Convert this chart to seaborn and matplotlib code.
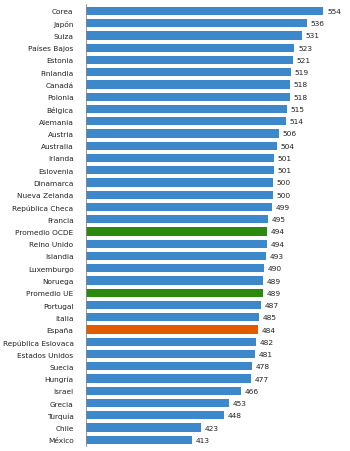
import matplotlib
matplotlib.use("Agg")
import matplotlib.pyplot as plt
import numpy as np
import pandas as pd
import seaborn as sns

countries = ["Corea", "Japón", "Suiza", "Países Bajos", "Estonia", "Finlandia", "Canadá",
             "Polonia", "Bélgica", "Alemania", "Austria", "Australia", "Irlanda", "Eslovenia",
             "Dinamarca", "Nueva Zelanda", "República Checa", "Francia", "Promedio OCDE",
             "Reino Unido", "Islandia", "Luxemburgo", "Noruega", "Promedio UE", "Portugal",
             "Italia", "España", "República Eslovaca", "Estados Unidos", "Suecia", "Hungría",
             "Israel", "Grecia", "Turquía", "Chile", "México"]
scores = [554, 536, 531, 523, 521, 519, 518, 518, 515, 514, 506, 504, 501, 501, 500, 500,
          499, 495, 494, 494, 493, 490, 489, 489, 487, 485, 484, 482, 481, 478, 477, 466,
          453, 448, 423, 413]

BLUE, GREEN, ORANGE = "#3c88cb", "#2b8a0e", "#e35b00"
palette = {c: (GREEN if c.startswith("Promedio") else ORANGE if c == "España" else BLUE)
           for c in countries}

df = pd.DataFrame({"country": countries, "score": scores})

sns.set_style("white")
plt.rcParams["font.family"] = ["DejaVu Sans"]

fig = plt.figure(figsize=(3.5, 4.52), dpi=100)
ax = fig.add_axes([0.246, 0.011, 0.734, 0.978])
sns.barplot(data=df, x="score", y="country", hue="country", palette=palette,
            order=countries, width=0.68, legend=False, ax=ax,
            saturation=1, linewidth=0)

for i, v in enumerate(scores):
    ax.text(v + 4, i, str(v), va="center", ha="left", fontsize=5.4, color="#222222")

ax.set_xlim(300, 575)
ax.set_ylim(35.51, -0.57)
ax.set_xlabel("")
ax.set_ylabel("")
ax.set_xticks([])
ax.tick_params(axis="y", which="major", length=0, pad=9, labelsize=5.3, labelcolor="#222222")
ax.set_yticks(np.arange(-0.5, 36, 1), minor=True)
ax.tick_params(axis="y", which="minor", length=3, color="#888888", width=0.5)
for s in ["top", "right", "bottom"]:
    ax.spines[s].set_visible(False)
ax.spines["left"].set_color("#888888")
ax.spines["left"].set_linewidth(0.6)

fig.savefig("out.png", dpi=100)
